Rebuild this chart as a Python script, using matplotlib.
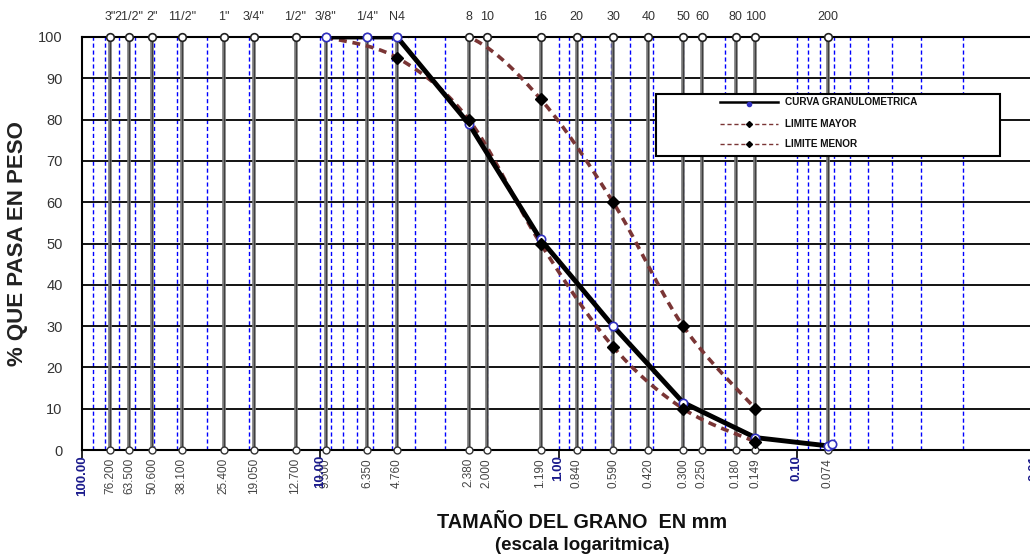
import numpy as np
import matplotlib
matplotlib.use("Agg")
import matplotlib.pyplot as plt
from matplotlib.lines import Line2D
from matplotlib.patches import Rectangle

plt.rcParams['font.family'] = ['Liberation Sans', 'DejaVu Sans']

# ---------------- data ----------------
sieve_mm = [76.2, 63.5, 50.8, 38.1, 25.4, 19.05, 12.7, 9.5, 6.35, 4.76, 2.38, 2.0,
            1.19, 0.84, 0.59, 0.42, 0.30, 0.25, 0.18, 0.149, 0.074]
top_labels = ['3"', '21/2"', '2"', '11/2"', '1"', '3/4"', '1/2"', '3/8"', '1/4"', 'N4',
              '8', '10', '16', '20', '30', '40', '50', '60', '80', '100', '200']
bottom_labels = ["76.200", "63.500", "50.600", "38.100", "25.400", "19.050", "12.700",
                 "9.500", "6.350", "4.760", "2.380", "2.000", "1.190", "0.840", "0.590",
                 "0.420", "0.300", "0.250", "0.180", "0.149", "0.074"]
decade_vals = [100, 10, 1, 0.1, 0.01]
decade_labels = ["100.00", "10.00", "1.00", "0.10", "0.01"]

curva_x = [9.5, 6.35, 4.76, 2.38, 1.19, 0.59, 0.30, 0.149, 0.074, 0.0708]
curva_y = [100, 100, 100, 79, 51, 30, 11.5, 3, 1.0, 1.4]

mayor_x = [9.5, 4.76, 2.38, 1.19, 0.59, 0.30, 0.149]
mayor_y = [100, 100, 100, 85, 60, 30, 10]

menor_x = [9.5, 4.76, 2.38, 1.19, 0.59, 0.30, 0.149]
menor_y = [100, 95, 80, 50, 25, 10, 2]

y_ticks = list(range(0, 101, 10))


def smooth(xs, ys, n=30):
    """Excel-like smoothed line (Catmull-Rom / Bezier) in log-x space."""
    lx = np.log10(np.asarray(xs, float))
    yy = np.asarray(ys, float)
    P = np.column_stack([lx, yy])
    P = np.vstack([P[0], P, P[-1]])
    out = []
    t = np.linspace(0, 1, n)
    for i in range(1, len(P) - 2):
        p0, p1, p2, p3 = P[i - 1], P[i], P[i + 1], P[i + 2]
        c1 = p1 + (p2 - p0) / 6.0
        c2 = p2 - (p3 - p1) / 6.0
        seg = ((1 - t) ** 3)[:, None] * p1 + (3 * (1 - t) ** 2 * t)[:, None] * c1 \
            + (3 * (1 - t) * t ** 2)[:, None] * c2 + (t ** 3)[:, None] * p2
        out.append(seg if i == 1 else seg[1:])
    S = np.vstack(out)
    return 10 ** S[:, 0], S[:, 1]


W, H = 1030, 557
fig = plt.figure(figsize=(W / 100, H / 100), dpi=100)
L, R, T, B = 82, 1035, 37, 450
ax = fig.add_axes([L / W, 1 - B / H, (R - L) / W, (B - T) / H])
ax.set_xscale('log')
ax.set_xlim(100, 0.01)
ax.set_ylim(0, 100)

# blue dashed log grid
for e in [-2, -1, 0, 1]:
    for k in range(1, 10):
        v = k * 10.0 ** e
        if 0.01 <= v <= 100:
            ax.axvline(v, color='#0000ff', lw=1.0, ls=(0, (3, 2)), zorder=1)
# horizontal lines
for yv in y_ticks[1:-1]:
    ax.axhline(yv, color='black', lw=1.3, zorder=2)

# sieve lines
ax.vlines(sieve_mm, 0, 100, color='#777777', lw=2.6, zorder=2)
ax.vlines(sieve_mm, 0, 100, color='#333333', lw=0.6, zorder=2)

dash_col = '#7a3535'
sx, sy = smooth(mayor_x, mayor_y)
ax.plot(sx, sy, color=dash_col, lw=2.6, ls=(0, (2.2, 1.6)), zorder=4)
sx, sy = smooth(menor_x, menor_y)
ax.plot(sx, sy, color=dash_col, lw=2.6, ls=(0, (2.2, 1.6)), zorder=4)

ax.plot(curva_x, curva_y, color='black', lw=3.5, zorder=5, clip_on=True)

ax.plot(sieve_mm, [100] * len(sieve_mm), ls='none', marker='o', ms=5.5, mfc='white',
        mec='#222222', mew=1.2, clip_on=False, zorder=5.2)
ax.plot(sieve_mm, [0] * len(sieve_mm), ls='none', marker='o', ms=5, mfc='white',
        mec='#333333', mew=1.0, clip_on=False, zorder=5.2)
ax.plot(curva_x, curva_y, ls='none', marker='o', ms=6, mfc='white', mec='#3030c0',
        mew=1.2, zorder=5.5, clip_on=False)

mx = [x for x, y in zip(mayor_x, mayor_y) if y < 100]
my = [y for y in mayor_y if y < 100]
ax.plot(mx, my, ls='none', marker='D', ms=6.5, color='black', zorder=6, clip_on=False)
nx = [x for x, y in zip(menor_x, menor_y) if y < 100]
ny = [y for y in menor_y if y < 100]
ax.plot(nx, ny, ls='none', marker='D', ms=6.5, color='black', zorder=6, clip_on=False)

for s in ['left', 'top', 'bottom']:
    ax.spines[s].set_linewidth(1.5)
    ax.spines[s].set_color('black')
    ax.spines[s].set_zorder(5.1)
ax.spines['right'].set_visible(False)

ax.set_xticks(decade_vals)
ax.xaxis.set_minor_locator(matplotlib.ticker.NullLocator())
ax.tick_params(axis='x', which='major', direction='out', length=6, width=1.2,
               labelbottom=False)
ax.set_yticks(y_ticks)
ax.set_yticklabels([str(v) for v in y_ticks])
ax.tick_params(axis='y', length=0, pad=14, labelsize=10.5, labelcolor='#333333')

trans = ax.get_xaxis_transform()
for xv, lab in zip(sieve_mm, top_labels):
    ax.text(xv, (B - 17) / (B - T), lab, transform=trans, ha='center', va='center',
            fontsize=9, color='#333333', clip_on=False)
for xv, lab in zip(sieve_mm, bottom_labels):
    ax.text(xv, -8 / (B - T), lab, transform=trans, ha='center', va='top',
            rotation=90, fontsize=8.5, color='#444444', clip_on=False)
for xv, lab in zip(decade_vals, decade_labels):
    ax.text(xv, -5 / (B - T), lab, transform=trans, ha='center', va='top',
            rotation=90, fontsize=9.5, fontweight='bold', color='#1a1a8c', clip_on=False)

fig.text(582 / W, 1 - 523 / H, 'TAMAÑO DEL GRANO  EN mm', ha='center', va='center',
         fontsize=14.3, fontweight='bold', color='#111111')
fig.text(582 / W, 1 - 546 / H, '(escala logaritmica)', ha='center', va='center',
         fontsize=13.5, fontweight='bold', color='#111111')
fig.text(18 / W, 1 - 244 / H, '% QUE PASA EN PESO', ha='center', va='center',
         rotation=90, fontsize=16, fontweight='bold', color='#222222')

# legend box (drawn in figure pixel coordinates)
def fx(px):
    return px / W

def fy(py):
    return 1 - py / H

fig.patches.append(Rectangle((fx(656), fy(156)), fx(1000) - fx(656), fy(94) - fy(156),
                             transform=fig.transFigure, facecolor='white',
                             edgecolor='black', lw=1.5, zorder=10))
rows = [(102, 'CURVA GRANULOMETRICA', 'curva'), (124, 'LIMITE MAYOR', 'lim'),
        (144, 'LIMITE MENOR', 'lim')]
for py, lab, kind in rows:
    if kind == 'curva':
        fig.add_artist(Line2D([fx(720), fx(778)], [fy(py), fy(py)], color='black', lw=1.8,
                              transform=fig.transFigure, zorder=11))
        fig.add_artist(Line2D([fx(749)], [fy(py + 2)], marker='o', ms=3, color='#3030c0',
                              transform=fig.transFigure, zorder=12))
    else:
        fig.add_artist(Line2D([fx(720), fx(778)], [fy(py), fy(py)], color=dash_col, lw=1.0,
                              ls=(0, (3, 2)), transform=fig.transFigure, zorder=11))
        fig.add_artist(Line2D([fx(749)], [fy(py)], marker='D', ms=3, color='black',
                              transform=fig.transFigure, zorder=12))
    fig.text(fx(785), fy(py), lab, ha='left', va='center', fontsize=7.2,
             fontweight='bold', color='#111111', zorder=12)

fig.savefig('out.png', dpi=100)
